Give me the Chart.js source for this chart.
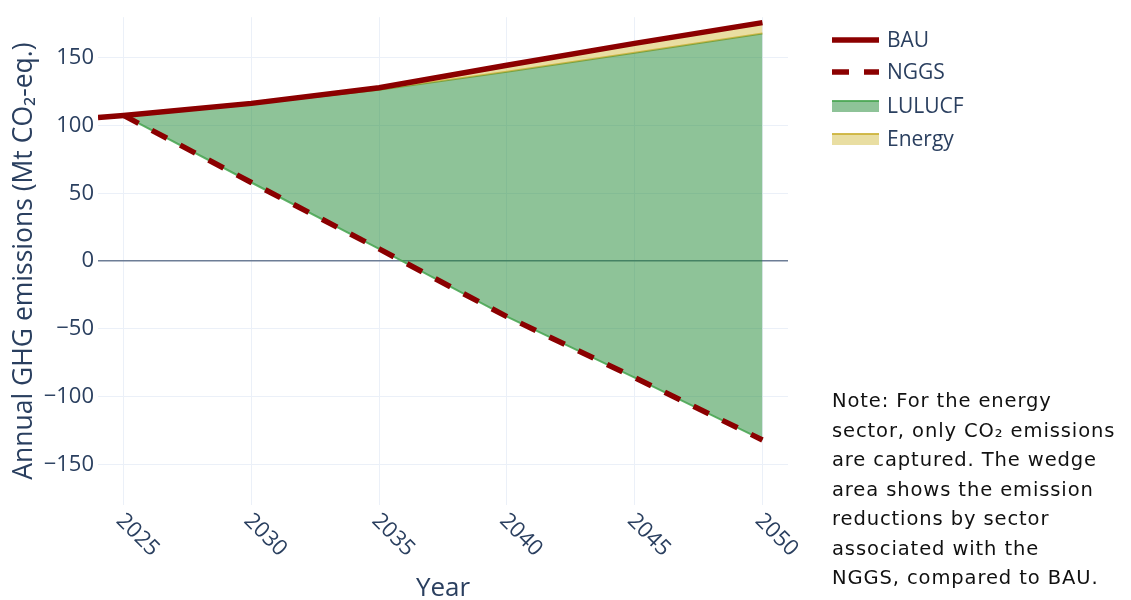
<!DOCTYPE html>
<html>
<head>
<meta charset="utf-8">
<script src="https://cdn.jsdelivr.net/npm/chart.js@4.4.1/dist/chart.umd.min.js"></script>
<style>
  html, body { margin: 0; padding: 0; background: #fff; }
  #wrap { position: relative; width: 1131px; height: 600px; }
  #note {
    position: absolute; left: 832px; top: 386px;
    font-family: 'DejaVu Sans', sans-serif; font-size: 19.5px; letter-spacing: 0.9px;
    line-height: 29.5px; color: #111;
  }
</style>
</head>
<body>
<div id="wrap">
  <canvas id="chart" width="1131" height="600"></canvas>
  <div id="note">Note: For the energy<br>sector, only CO₂ emissions<br>are captured. The wedge<br>area shows the emission<br>reductions by sector<br>associated with the<br>NGGS, compared to BAU.</div>
</div>
<script>
// values (Mt CO2-eq.)
const bauYears = [2024, 2025, 2030, 2035, 2040, 2045, 2050];
const bauValues = [106, 107.5, 116.4, 128, 144.5, 160.7, 176];
const wedgeYears = [2025, 2030, 2035, 2040, 2045, 2050];
const nggsValues = [107.5, 58, 9, -41, -86, -132];
const energyCut = [0, 0.5, 1.5, 4.8, 7, 8];   // energy-sector reduction below BAU
const yTicks = [-150, -100, -50, 0, 50, 100, 150];
const xTicks = [2025, 2030, 2035, 2040, 2045, 2050];

const txt = '#2a3f5f';
const darkRed = '#8b0000';
const greenFill = 'rgba(30,135,50,0.5)';
const greenLine = 'rgba(70,165,80,0.85)';
const yellowFill = 'rgba(212,190,70,0.5)';
const yellowLine = 'rgba(205,180,60,0.9)';

const pts = (xs, ys) => xs.map((x, i) => ({ x: x, y: ys[i] }));
const energyTop = wedgeYears.map((yr, i) => bauValues[bauYears.indexOf(yr)] - energyCut[i]);

// legend drawn at the right, like the original
const sideLegend = {
  id: 'sideLegend',
  afterDraw(chart) {
    const ctx = chart.ctx;
    const x0 = 832, x1 = 879;
    const rows = [40, 72, 106, 139];
    ctx.save();
    chart.data.datasets.forEach((ds, i) => {
      const y = rows[i];
      if (ds.fill === false) {
        ctx.strokeStyle = ds.borderColor;
        ctx.lineWidth = ds.borderWidth;
        ctx.setLineDash(ds.borderDash || []);
        ctx.beginPath(); ctx.moveTo(x0, y); ctx.lineTo(x1, y); ctx.stroke();
        ctx.setLineDash([]);
      } else {
        ctx.fillStyle = ds.backgroundColor;
        ctx.fillRect(x0, y - 5, x1 - x0, 11);
        ctx.strokeStyle = ds.borderColor;
        ctx.lineWidth = 2;
        ctx.beginPath(); ctx.moveTo(x0, y - 5); ctx.lineTo(x1, y - 5); ctx.stroke();
      }
      ctx.fillStyle = txt;
      ctx.font = '21px "Open Sans"';
      ctx.textBaseline = 'middle';
      ctx.textAlign = 'left';
      ctx.fillText(ds.label, 887, y + 1);
    });
    ctx.restore();
  }
};

// x tick labels rotated clockwise
const slantTicks = {
  id: 'slantTicks',
  afterDraw(chart) {
    const ctx = chart.ctx;
    const sx = chart.scales.x;
    ctx.save();
    ctx.fillStyle = txt;
    ctx.font = '22px "Open Sans"';
    ctx.textAlign = 'center';
    ctx.textBaseline = 'middle';
    sx.ticks.forEach(t => {
      const px = sx.getPixelForValue(t.value);
      ctx.save();
      ctx.translate(px + 14, 535);
      ctx.rotate(Math.PI / 4);
      ctx.fillText(String(t.value), 0, 0);
      ctx.restore();
    });
    ctx.restore();
  }
};

new Chart(document.getElementById('chart'), {
  type: 'line',
  data: {
    datasets: [
      {
        label: 'BAU',
        data: pts(bauYears, bauValues),
        borderColor: darkRed,
        borderWidth: 5.5,
        fill: false
      },
      {
        label: 'NGGS',
        data: pts(wedgeYears, nggsValues),
        borderColor: darkRed,
        borderWidth: 5.5,
        borderDash: [17, 15],
        fill: false
      },
      {
        label: 'LULUCF',
        data: pts(wedgeYears, nggsValues),
        borderColor: greenLine,
        backgroundColor: greenFill,
        borderWidth: 2,
        fill: 3
      },
      {
        label: 'Energy',
        data: pts(wedgeYears, energyTop),
        borderColor: yellowLine,
        backgroundColor: yellowFill,
        borderWidth: 2,
        fill: 0
      }
    ]
  },
  options: {
    responsive: false,
    animation: false,
    devicePixelRatio: 1,
    layout: { padding: { left: 0, right: 343, top: 14, bottom: 0 } },
    elements: { point: { radius: 0 }, line: { tension: 0 } },
    plugins: {
      legend: { display: false },
      tooltip: { enabled: false }
    },
    scales: {
      x: {
        type: 'linear',
        min: 2024,
        max: 2051,
        afterBuildTicks: s => { s.ticks = xTicks.map(v => ({ value: v })); },
        afterFit: s => { s.height = 95; },
        ticks: { display: false },
        grid: { color: '#ebf0f8', lineWidth: 1, drawTicks: false },
        border: { display: false },
        title: {
          display: true,
          text: 'Year',
          color: txt,
          font: { family: 'Open Sans', size: 26, lineHeight: 1 },
          padding: { top: 0, bottom: -2 }
        }
      },
      y: {
        min: -180,
        max: 180,
        afterBuildTicks: s => { s.ticks = yTicks.map(v => ({ value: v })); },
        afterFit: s => { s.width = 98; },
        ticks: {
          color: txt,
          font: { family: 'Open Sans', size: 22 },
          padding: 4,
          callback: v => (v < 0 ? '\u2212' + Math.abs(v) : String(v))
        },
        grid: {
          color: c => (c.tick && c.tick.value === 0 ? '#6d7d96' : '#ebf0f8'),
          lineWidth: c => (c.tick && c.tick.value === 0 ? 1.5 : 1),
          drawTicks: false
        },
        border: { display: false },
        title: {
          display: true,
          text: 'Annual GHG emissions (Mt CO\u2082-eq.)',
          color: txt,
          font: { family: 'Open Sans', size: 26.5, lineHeight: 1.2 },
          padding: { top: 9, bottom: 0 }
        }
      }
    }
  },
  plugins: [sideLegend, slantTicks]
});
</script>
</body>
</html>
